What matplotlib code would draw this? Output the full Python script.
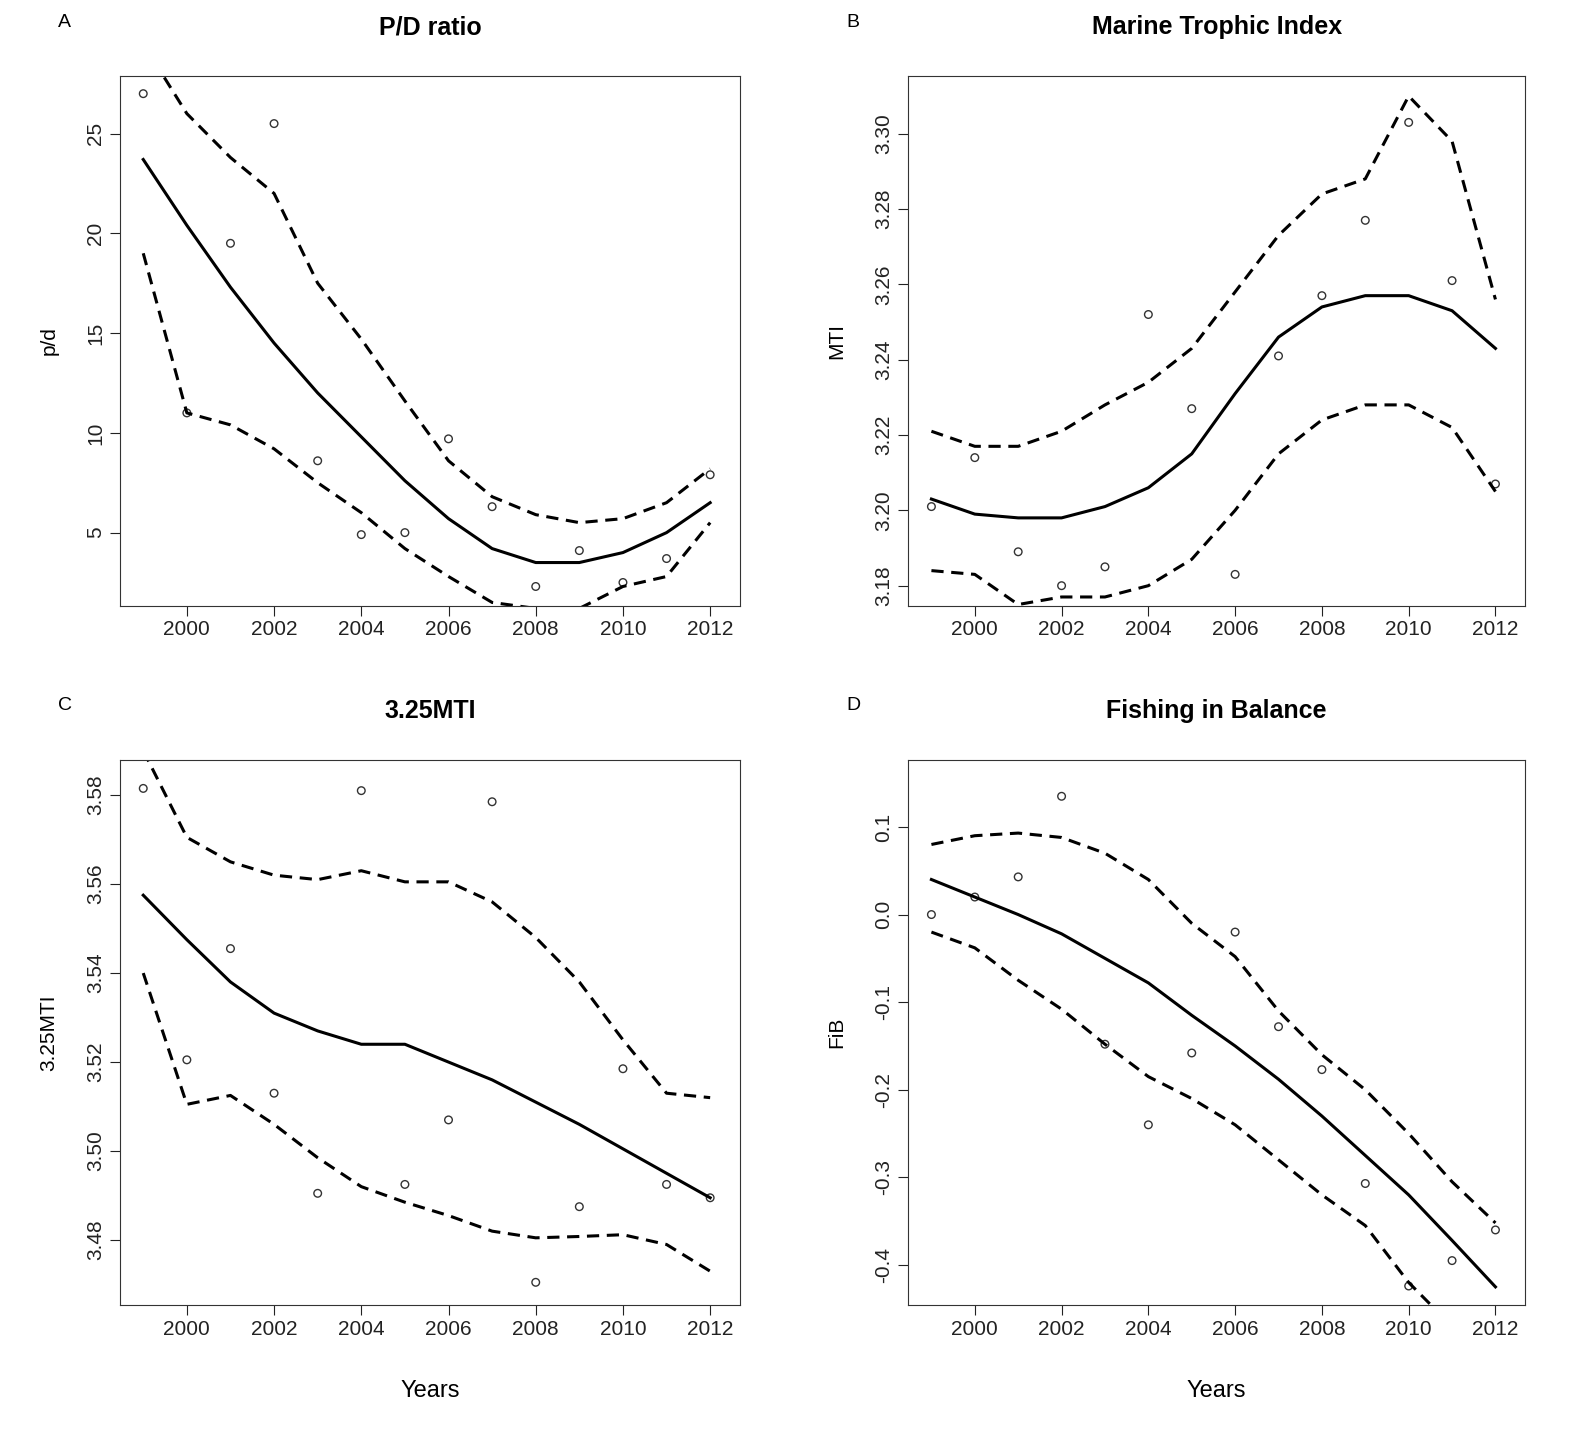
import numpy as np
import matplotlib
matplotlib.use('Agg')
from matplotlib import pyplot as plt

plt.rcParams['font.family'] = ['Liberation Sans', 'DejaVu Sans']

years = np.arange(1999, 2013)

pd_pts = [27, 11, 19.5, 25.5, 8.6, 4.9, 5.0, 9.7, 6.3, 2.3, 4.1, 2.5, 3.7, 7.9]
pd_fit = [23.7, 20.4, 17.3, 14.5, 12.0, 9.8, 7.6, 5.7, 4.2, 3.5, 3.5, 4.0, 5.0, 6.5]
pd_up = [29.5, 26, 23.8, 22, 17.5, 14.7, 11.6, 8.6, 6.8, 5.9, 5.5, 5.7, 6.5, 8.2]
pd_lo = [19, 11, 10.4, 9.2, 7.5, 6.0, 4.2, 2.8, 1.5, 1.2, 1.2, 2.3, 2.8, 5.5]

mti_pts = [3.201, 3.214, 3.189, 3.180, 3.185, 3.252, 3.227, 3.183, 3.241, 3.257, 3.277, 3.303, 3.261, 3.207]
mti_fit = [3.203, 3.199, 3.198, 3.198, 3.201, 3.206, 3.215, 3.231, 3.246, 3.254, 3.257, 3.257, 3.253, 3.243]
mti_up = [3.221, 3.217, 3.217, 3.221, 3.228, 3.234, 3.243, 3.258, 3.273, 3.284, 3.288, 3.310, 3.298, 3.256]
mti_lo = [3.184, 3.183, 3.175, 3.177, 3.177, 3.180, 3.187, 3.200, 3.215, 3.224, 3.228, 3.228, 3.222, 3.205]

m325_pts = [3.5815, 3.5205, 3.5455, 3.513, 3.4905, 3.581, 3.4925, 3.507, 3.5785, 3.4705, 3.4875, 3.5185, 3.4925, 3.4895]
m325_fit = [3.5575, 3.5475, 3.538, 3.531, 3.527, 3.524, 3.524, 3.520, 3.516, 3.511, 3.506, 3.5005, 3.495, 3.4895]
m325_up = [3.590, 3.5705, 3.565, 3.562, 3.561, 3.563, 3.5605, 3.5605, 3.556, 3.548, 3.538, 3.525, 3.513, 3.512]
m325_lo = [3.540, 3.5105, 3.5125, 3.506, 3.4985, 3.492, 3.4885, 3.4855, 3.482, 3.4805, 3.4808, 3.4812, 3.479, 3.473]

fib_pts = [0.0, 0.02, 0.043, 0.135, -0.148, -0.24, -0.158, -0.02, -0.128, -0.177, -0.307, -0.424, -0.395, -0.36]
fib_fit = [0.04, 0.02, 0.0, -0.022, -0.05, -0.078, -0.115, -0.15, -0.188, -0.23, -0.275, -0.32, -0.372, -0.425]
fib_up = [0.08, 0.09, 0.093, 0.088, 0.07, 0.04, -0.01, -0.048, -0.11, -0.16, -0.2, -0.25, -0.305, -0.352]
fib_lo = [-0.02, -0.038, -0.075, -0.108, -0.148, -0.185, -0.21, -0.24, -0.28, -0.32, -0.355, -0.42, -0.47, -0.52]

panels = [
    ('A', 'P/D ratio', 'p/d', pd_pts, pd_fit, pd_up, pd_lo, (1.34, 27.9), [5, 10, 15, 20, 25], '%g', False),
    ('B', 'Marine Trophic Index', 'MTI', mti_pts, mti_fit, mti_up, mti_lo, (3.1747, 3.3154),
     [3.18, 3.20, 3.22, 3.24, 3.26, 3.28, 3.30], '%.2f', False),
    ('C', '3.25MTI', '3.25MTI', m325_pts, m325_fit, m325_up, m325_lo, (3.4654, 3.5879),
     [3.48, 3.50, 3.52, 3.54, 3.56, 3.58], '%.2f', True),
    ('D', 'Fishing in Balance', 'FiB', fib_pts, fib_fit, fib_up, fib_lo, (-0.4457, 0.1765),
     [-0.4, -0.3, -0.2, -0.1, 0.0, 0.1], '%.1f', True),
]
rects = [
    [0.076, 0.580, 0.394, 0.3675],
    [0.5765, 0.580, 0.392, 0.3675],
    [0.076, 0.095, 0.394, 0.378],
    [0.5765, 0.095, 0.392, 0.378],
]

fig = plt.figure(figsize=(15.75, 14.42), dpi=100)
for (letter, title, ylab, pts, fit, up, lo, ylim, yt, fmt, show_x), r in zip(panels, rects):
    ax = fig.add_axes(r)
    ax.plot(years, fit, color='black', lw=2.2)
    ax.plot(years, up, color='black', lw=2.2, ls=(0, (4, 2.5)))
    ax.plot(years, lo, color='black', lw=2.2, ls=(0, (4, 2.5)))
    ax.scatter(years, pts, s=30, facecolors='none', edgecolors='#333333', lw=1)
    ax.set_xlim(1998.46, 2012.69)
    ax.set_ylim(*ylim)
    ax.set_xticks(range(2000, 2013, 2))
    ax.set_yticks(yt)
    ax.set_yticklabels([fmt % v for v in yt], rotation=90, va='center')
    ax.tick_params(labelsize=15, length=7, colors='#222222')
    for s in ax.spines.values():
        s.set_color('#333333')
    ax.set_title(title, fontsize=18, fontweight='bold', pad=30)
    ax.set_ylabel(ylab, fontsize=15, labelpad=20)
    if show_x:
        ax.set_xlabel('Years', fontsize=17, labelpad=30)
    ax.text(-0.1, 1.1, letter, transform=ax.transAxes, fontsize=14, ha='left', va='center')

fig.savefig('out.png')
